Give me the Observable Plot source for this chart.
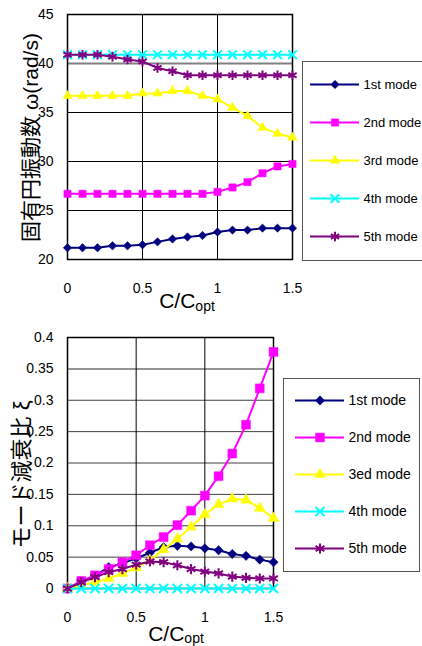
<!DOCTYPE html>
<html><head><meta charset="utf-8">
<script src="https://cdn.jsdelivr.net/npm/d3@7"></script>
<script src="https://cdn.jsdelivr.net/npm/@observablehq/plot@0.6"></script>
<style>
html,body{margin:0;padding:0;overflow:hidden;background:#fff}
#wrap{position:relative;width:422px;height:646px;overflow:hidden;font-family:"Liberation Sans","Noto Sans CJK JP",sans-serif}
.chart{position:absolute;left:0}
.legend{position:absolute;box-sizing:border-box;border:1px solid #555;background:#fff;overflow:hidden}
</style></head>
<body><div id="wrap"></div>
<script>
// ---- data ----
const ratio = [0,0.1,0.2,0.3,0.4,0.5,0.6,0.7,0.8,0.9,1.0,1.1,1.2,1.3,1.4,1.5];
const freqMode1 = [21.2,21.2,21.2,21.4,21.4,21.5,21.8,22.1,22.3,22.45,22.8,23.0,23.0,23.2,23.2,23.2];
const freqMode2 = [26.7,26.7,26.7,26.7,26.7,26.7,26.7,26.7,26.7,26.7,26.9,27.35,27.9,28.8,29.5,29.75];
const freqMode3 = [36.7,36.7,36.7,36.7,36.7,36.95,36.95,37.2,37.2,36.7,36.35,35.5,34.65,33.45,32.85,32.45];
const freqMode4 = [40.9,40.9,40.9,40.9,40.9,40.9,40.9,40.9,40.9,40.9,40.9,40.9,40.9,40.9,40.9,40.9];
const freqMode5 = [40.9,40.9,40.9,40.7,40.4,40.2,39.55,39.2,38.8,38.8,38.8,38.8,38.8,38.8,38.8,38.8];

const dampMode1 = [0,0.01,0.02,0.034,0.04,0.048,0.057,0.066,0.068,0.067,0.064,0.061,0.055,0.052,0.046,0.042];
const dampMode2 = [0,0.012,0.021,0.031,0.042,0.053,0.069,0.082,0.101,0.124,0.148,0.179,0.215,0.261,0.319,0.377];
const dampMode3 = [0,0.005,0.01,0.016,0.024,0.033,0.045,0.062,0.079,0.098,0.118,0.134,0.143,0.141,0.128,0.112];
const dampMode4 = [0,0,0,0,0,0,0,0,0,0,0,0,0,0,0,0];
const dampMode5 = [0,0.01,0.018,0.026,0.031,0.038,0.043,0.042,0.037,0.031,0.027,0.024,0.019,0.017,0.016,0.016];

const freqNames = ["1st mode","2nd mode","3rd mode","4th mode","5th mode"];
const dampNames = ["1st mode","2nd mode","3ed mode","4th mode","5th mode"];
const xTicks = [0,0.5,1,1.5];
const freqTicks = [20,25,30,35,40,45];
const dampTicks = [0,0.05,0.1,0.15,0.2,0.25,0.3,0.35,0.4];
const freqTitle = "固有円振動数 ω(rad/s)";
const dampTitle = "モード減衰比 ξ";

// ---- styles per series ----
const colors = ["#000080","#FF00FF","#FFFF00","#00FFFF","#800080"];
const symbols = ["diamond2","square","triangle","times","asterisk"];
const filled = [true,true,true,false,false];
const FONT = '"Liberation Sans","Noto Sans CJK JP",sans-serif';

function seriesMarks(values, sizes) {
  const marks = [];
  values.forEach((vals, i) => {
    const rows = ratio.map((x, j) => ({x, y: vals[j]}));
    marks.push(Plot.line(rows, {x: "x", y: "y", stroke: colors[i], strokeWidth: 2}));
    marks.push(Plot.dot(rows, {x: "x", y: "y", symbol: symbols[i], r: sizes[i],
      fill: filled[i] ? colors[i] : "none", stroke: colors[i], strokeWidth: filled[i] ? 0.5 : 2}));
  });
  return marks;
}

function legendPlot(names, w, h, xr, yr, sizes, fs) {
  const marks = [];
  names.forEach((n, i) => {
    marks.push(Plot.ruleY([n], {x1: 0, x2: 1, stroke: colors[i], strokeWidth: 2}));
    marks.push(Plot.dot([n], {x: 0.5, y: d => d, symbol: symbols[i], r: sizes[i],
      fill: filled[i] ? colors[i] : "none", stroke: colors[i], strokeWidth: filled[i] ? 0.5 : 2}));
  });
  marks.push(Plot.text(names, {x: 1, y: d => d, text: d => d, dx: 4, textAnchor: "start", fontSize: fs, fill: "black"}));
  return Plot.plot({
    width: w, height: h, margin: 0,
    style: {fontFamily: FONT, background: "transparent", overflow: "visible"},
    x: {domain: [0, 1], range: xr, axis: null},
    y: {type: "point", domain: names, range: yr, padding: 0, axis: null},
    marks
  });
}

const wrap = document.getElementById("wrap");

// ---- top chart: natural frequency ----
const topSizes = [3.8, 4.1, 3.5, 4, 4.5];
const freqChart = Plot.plot({
  width: 422, height: 318,
  marginLeft: 67, marginRight: 130, marginTop: 14, marginBottom: 59,
  style: {fontFamily: FONT, fontSize: "14px", color: "black", background: "transparent", overflow: "visible"},
  x: {domain: [0, 1.5]},
  y: {domain: [20, 45]},
  marks: [
    Plot.gridY([25, 30, 35], {stroke: "black", strokeOpacity: 1}),
    Plot.gridY([40], {stroke: "#808080", strokeOpacity: 1, strokeWidth: 2}),
    Plot.gridX([0.5, 1], {stroke: "black", strokeOpacity: 1}),
    Plot.frame({stroke: "black", strokeWidth: 1.5}),
    Plot.axisX({ticks: xTicks, tickSize: 0, tickPadding: 24, tickFormat: d => String(d), label: null, fontSize: 14}),
    Plot.axisY({ticks: freqTicks, tickSize: 0, tickPadding: 14, tickFormat: d => String(d), label: null, fontSize: 14}),
    ...seriesMarks([freqMode1, freqMode2, freqMode3, freqMode4, freqMode5], topSizes)
  ]
});
freqChart.classList.add("chart");
freqChart.style.top = "0px";
wrap.appendChild(freqChart);
{
  const s = d3.select(freqChart);
  s.append("text").attr("transform", "translate(30,137.5) rotate(-90)")
    .attr("text-anchor", "middle").attr("dominant-baseline", "central")
    .attr("font-size", 21).attr("fill", "black").text(freqTitle);
  const t = s.append("text").attr("x", 187).attr("y", 308).attr("text-anchor", "middle")
    .attr("font-size", 21).attr("fill", "black");
  t.append("tspan").text("C/C");
  t.append("tspan").attr("font-size", 14).attr("dy", 3).text("opt");
}

// ---- bottom chart: modal damping ratio ----
const botSizes = [4.2, 5, 4, 4.2, 4.8];
const dampChart = Plot.plot({
  width: 422, height: 328,
  marginLeft: 67, marginRight: 149, marginTop: 19, marginBottom: 58,
  style: {fontFamily: FONT, fontSize: "14px", color: "black", background: "transparent", overflow: "visible"},
  x: {domain: [0, 1.5]},
  y: {domain: [0, 0.4]},
  marks: [
    Plot.gridY([0.05, 0.1, 0.15, 0.2, 0.25, 0.3], {stroke: "#404040", strokeOpacity: 1}),
    Plot.gridY([0.35], {stroke: "#707070", strokeOpacity: 1, strokeWidth: 1.5}),
    Plot.gridX([0.5, 1], {stroke: "black", strokeOpacity: 1}),
    Plot.frame({stroke: "black", strokeWidth: 1.5}),
    Plot.axisX({ticks: xTicks, tickSize: 0, tickPadding: 24, tickFormat: d => String(d), label: null, fontSize: 14}),
    Plot.axisY({ticks: dampTicks, tickSize: 0, tickPadding: 14, tickFormat: d => String(d), label: null, fontSize: 14}),
    ...seriesMarks([dampMode1, dampMode2, dampMode3, dampMode4, dampMode5], botSizes)
  ]
});
dampChart.classList.add("chart");
dampChart.style.top = "318px";
wrap.appendChild(dampChart);
{
  const s = d3.select(dampChart);
  s.append("text").attr("transform", "translate(21,156.5) rotate(-90)")
    .attr("text-anchor", "middle").attr("dominant-baseline", "central")
    .attr("font-size", 22).attr("fill", "black").text(dampTitle);
  const t = s.append("text").attr("x", 176).attr("y", 323).attr("text-anchor", "middle")
    .attr("font-size", 21).attr("fill", "black");
  t.append("tspan").text("C/C");
  t.append("tspan").attr("font-size", 14).attr("dy", 2).text("opt");
}

// ---- legends ----
const lg1 = document.createElement("div");
lg1.className = "legend";
Object.assign(lg1.style, {left: "302px", top: "61px", width: "140px", height: "200px"});
lg1.appendChild(legendPlot(freqNames, 138, 198, [7, 56], [20, 175], topSizes, 13));
wrap.appendChild(lg1);

const lg2 = document.createElement("div");
lg2.className = "legend";
Object.assign(lg2.style, {left: "283px", top: "378px", width: "137px", height: "194px"});
lg2.appendChild(legendPlot(dampNames, 135, 192, [11, 60], [20, 170], botSizes, 14));
wrap.appendChild(lg2);
</script>
</body></html>
